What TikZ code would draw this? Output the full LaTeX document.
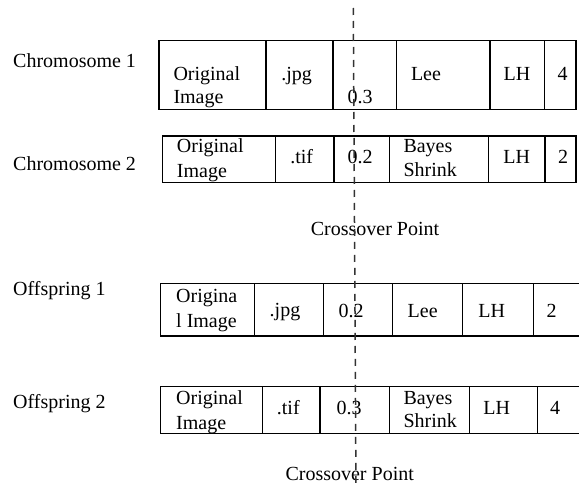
\documentclass[tikz,border=0pt]{standalone}
\usepackage{fontspec}
\setmainfont{Liberation Serif}
\begin{document}
\begin{tikzpicture}[x=1pt,y=-1pt,
  cellline/.style={draw=black, line width=1.4pt},
  txt/.style={inner sep=0pt, anchor=base, font=\fontsize{20}{25}\selectfont},
  txtw/.style={txt, anchor=base west},
  cut/.style={draw=black!80, line width=1.5pt, dash pattern=on 7pt off 6pt}]
\useasboundingbox (0,0) rectangle (579,487);
% row 1
\draw[cellline] (159,40.7) rectangle (576,109.3);
\foreach \x in {266,333,396.7,490,544.3} \draw[cellline] (\x,40.7) -- (\x,109.3);
% row 2
\draw[cellline] (162.7,136) rectangle (576,182.7);
\foreach \x in {275.3,334,389.3,488.7,545} \draw[cellline] (\x,136) -- (\x,182.7);
% row 3
\draw[cellline] (160.7,283.3) rectangle (582,336);
\foreach \x in {254.3,323.3,392.7,462.3,533.3} \draw[cellline] (\x,283.3) -- (\x,336);
% row 4
\draw[cellline] (160.7,386.7) rectangle (582,433.3);
\foreach \x in {262.7,320,389.3,469.3,537.3} \draw[cellline] (\x,386.7) -- (\x,433.3);

% labels
\node[txtw] (c1) at (13,67.3) {Chromosome 1};
\node[txtw] (c2) at (13,170) {Chromosome 2};
\node[txtw] (o1) at (13,295) {Offspring 1};
\node[txtw] (o2) at (13,408) {Offspring 2};

% row 1 texts
\node[txtw] (r1a) at (173.3,81) {Original};
\node[txtw] (r1b) at (173.3,103) {Image};
\node[txt] (r1c) at (296.7,81) {.jpg};
\node[txt] (r1d) at (360,103) {0.3};
\node[txt] (r1e) at (426,81) {Lee};
\node[txt] (r1f) at (517,81) {LH};
\node[txt] (r1g) at (562.7,81) {4};
% row 2 texts
\node[txtw] (r2a) at (176.7,152.7) {Original};
\node[txtw] (r2b) at (176.7,177.7) {Image};
\node[txt] (r2c) at (301.7,164) {.tif};
\node[txt] (r2d) at (360,164) {0.2};
\node[txtw] (r2e) at (403.3,152.7) {Bayes};
\node[txtw] (r2f) at (403.3,176) {Shrink};
\node[txt] (r2g) at (516.7,164) {LH};
\node[txt] (r2h) at (563,164) {2};
% row 3 texts
\node[txtw] (r3a) at (176,302.7) {Origina};
\node[txtw] (r3b) at (176,327.7) {l Image};
\node[txt] (r3c) at (285,316.5) {.jpg};
\node[txt] (r3d) at (351,317) {0.2};
\node[txt] (r3e) at (422.7,317) {Lee};
\node[txt] (r3f) at (491.7,317) {LH};
\node[txt] (r3g) at (551.7,317) {2};
% row 4 texts
\node[txtw] (r4a) at (176,404.3) {Original};
\node[txtw] (r4b) at (176,429.3) {Image};
\node[txt] (r4c) at (288.3,414) {.tif};
\node[txt] (r4d) at (349,414) {0.3};
\node[txtw] (r4e) at (403.3,404.3) {Bayes};
\node[txtw] (r4f) at (403.3,427.7) {Shrink};
\node[txt] (r4g) at (496.7,414) {LH};
\node[txt] (r4h) at (555,414) {4};

% crossover labels
\node[txt] (cp1) at (375,235) {Crossover Point};
\node[txt] (cp2) at (349.7,480) {Crossover Point};

% dashed cut line
\coordinate (top) at (353.3,8);
\coordinate (bot) at (356,490);
\draw[cut] (top) -- (bot);
\end{tikzpicture}
\end{document}
